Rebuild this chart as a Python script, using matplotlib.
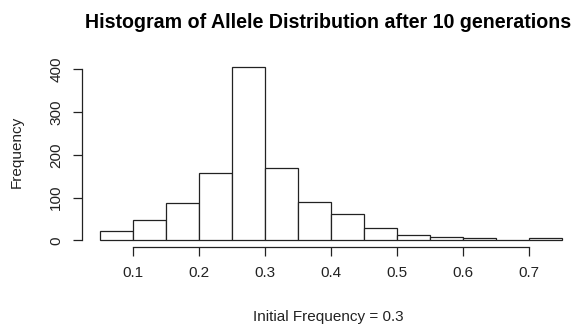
import matplotlib
matplotlib.use("Agg")
import matplotlib.pyplot as plt
import numpy as np

breaks = [0.05, 0.10, 0.15, 0.20, 0.25, 0.30, 0.35, 0.40, 0.45, 0.50, 0.55, 0.60, 0.65, 0.70, 0.75]
counts = [21, 47, 88, 158, 406, 170, 90, 62, 29, 12, 8, 5, 2, 5]
xticks = [0.1, 0.2, 0.3, 0.4, 0.5, 0.6, 0.7]
xtick_labels = ["0.1", "0.2", "0.3", "0.4", "0.5", "0.6", "0.7"]
yticks = [0, 100, 200, 300, 400]

title = "Histogram of Allele Distribution after 10 generations"
xlabel = "Initial Frequency = 0.3"
ylabel = "Frequency"

plt.rcParams['font.family'] = ['Liberation Sans', 'DejaVu Sans']

W, H = 572, 324
fig = plt.figure(figsize=(W/100, H/100), dpi=100)
fig.patch.set_facecolor("white")

# plot region in pixels
px_left, px_right = 82.0, 580.0
px_top, px_bottom = 59.8, 247.3
ax = fig.add_axes([px_left/W, 1 - px_bottom/H, (px_right-px_left)/W, (px_bottom-px_top)/H])
ax.set_facecolor("none")

xr = breaks[-1] - breaks[0]
ax.set_xlim(breaks[0] - 0.04*xr, breaks[-1] + 0.04*xr)
ymax = max(counts)
ax.set_ylim(-0.04*ymax, ymax*1.04)

lefts = breaks[:-1]
widths = np.diff(breaks)
ax.bar(lefts, counts, width=widths, align='edge', color='white', edgecolor='#222222', linewidth=0.9)

for s in ['top', 'right']:
    ax.spines[s].set_visible(False)
ax.spines['left'].set_bounds(yticks[0], yticks[-1])
ax.spines['bottom'].set_bounds(xticks[0], xticks[-1])
for s in ['left', 'bottom']:
    ax.spines[s].set_linewidth(0.9)
    ax.spines[s].set_color('#222222')

ax.set_xticks(xticks)
ax.set_xticklabels(xtick_labels)
ax.set_yticks(yticks)
ax.set_yticklabels([str(v) for v in yticks], rotation=90, va='center')
ax.tick_params(axis='both', direction='out', length=6.5, width=0.9, color='#222222',
               labelsize=11, labelcolor='#222222')
ax.tick_params(axis='x', pad=7)
ax.tick_params(axis='y', pad=7)

fig.text(328/W, 1 - 22/H, title, ha='center', va='center', fontsize=14.1, fontweight='bold', color='black')
fig.text(328/W, 1 - 317/H, xlabel, ha='center', va='center', fontsize=11, color='#222222')
fig.text(17/W, 1 - 152/H, ylabel, ha='center', va='center', rotation=90, fontsize=11, color='#222222')

fig.savefig("out.png", dpi=100, facecolor="white")
